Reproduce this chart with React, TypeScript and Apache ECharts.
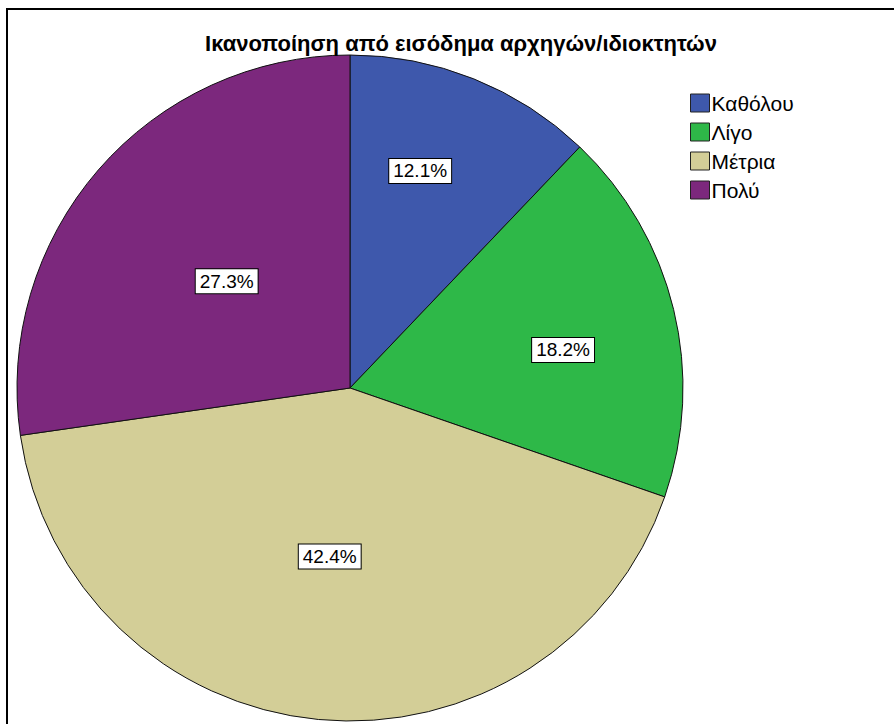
import React, { useEffect, useRef } from "react";
import * as echarts from "echarts";

const categories = ["Καθόλου", "Λίγο", "Μέτρια", "Πολύ"];
const counts = [4, 6, 14, 9];
const colors = ["#3E58AC", "#2EB848", "#D3CE97", "#7C287D"];
const labelRadiusFrac = [0.685, 0.65, 0.51, 0.49];
const labelAngleShiftDeg = [-3.9, 3.5, 1.4, 0];
const titleText = "Ικανοποίηση από εισόδημα αρχηγών/ιδιοκτητών";

const CX = 350;
const CY = 388;
const R = 333;
const FONT = "Liberation Sans, Arial, sans-serif";

export default function App() {
  const ref = useRef<HTMLDivElement>(null);
  useEffect(() => {
    if (!ref.current) return;
    const chart = echarts.init(ref.current, undefined, { renderer: "svg" });
    const total = counts.reduce((a, b) => a + b, 0);
    const cum: number[] = [];
    let acc = 0;
    counts.forEach((c) => {
      cum.push(acc + c / 2);
      acc += c;
    });
    chart.setOption({
      animation: false,
      backgroundColor: "#fff",
      title: {
        text: titleText,
        left: 456,
        top: 27,
        textAlign: "center",
        textStyle: {
          fontFamily: FONT,
          fontWeight: "bold",
          fontSize: 22,
          color: "#000",
        },
      },
      legend: {
        orient: "vertical",
        left: 690,
        top: 91,
        itemWidth: 19,
        itemHeight: 18,
        itemGap: 5,
        padding: 0,
        icon: "rect",
        selectedMode: false,
        data: categories,
        itemStyle: { borderColor: "#222", borderWidth: 1 },
        textStyle: {
          fontFamily: FONT,
          fontSize: 21,
          lineHeight: 24,
          color: "#000",
          padding: [0, 0, 0, -3],
        },
      },
      graphic: [
        {
          type: "rect",
          shape: { x: 7, y: 9, width: 1000, height: 1000 },
          style: { fill: "none", stroke: "#000", lineWidth: 2 },
          silent: true,
          z: 100,
        },
      ],
      series: [
        {
          type: "pie",
          center: [CX, CY],
          radius: R,
          startAngle: 90,
          clockwise: true,
          avoidLabelOverlap: false,
          emphasis: { disabled: true },
          itemStyle: { borderColor: "#111", borderWidth: 1 },
          label: {
            show: true,
            position: "inside",
            formatter: (p: any) => ((p.value / total) * 100).toFixed(1) + "%",
            fontFamily: FONT,
            fontSize: 19,
            color: "#000",
            backgroundColor: "#fff",
            borderColor: "#000",
            borderWidth: 1,
            padding: [3, 4, 2, 4],
            align: "center",
            verticalAlign: "middle",
          },
          labelLine: { show: false },
          labelLayout: (params: any) => {
            const i = params.dataIndex;
            const ang =
              (cum[i] / total) * Math.PI * 2 +
              (labelAngleShiftDeg[i] * Math.PI) / 180;
            const r = R * labelRadiusFrac[i];
            return {
              x: CX + r * Math.sin(ang),
              y: CY - r * Math.cos(ang),
              align: "center",
              verticalAlign: "middle",
            };
          },
          data: categories.map((name, i) => ({
            name,
            value: counts[i],
            itemStyle: { color: colors[i] },
          })),
        },
      ],
    });
    return () => chart.dispose();
  }, []);
  return (
    <div
      ref={ref}
      style={{ position: "fixed", left: 0, top: 0, width: 894, height: 724 }}
    />
  );
}
